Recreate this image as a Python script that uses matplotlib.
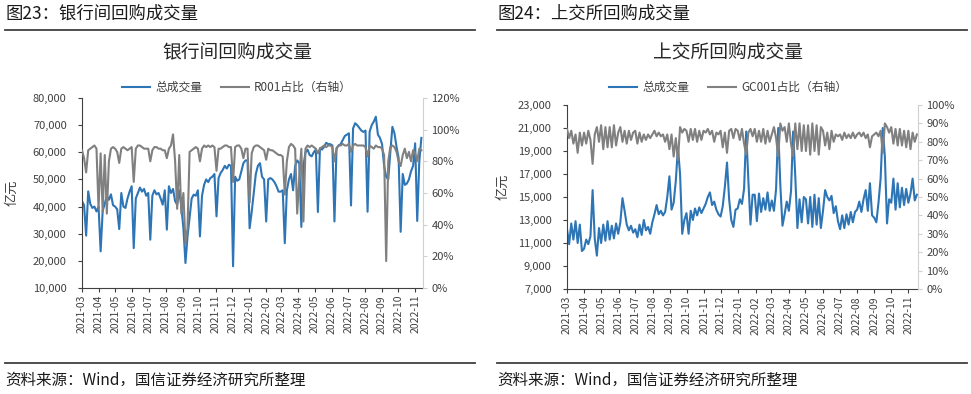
import matplotlib
matplotlib.use("Agg")
import matplotlib.pyplot as plt
import matplotlib.dates as mdates
import matplotlib.ticker as mticker
from matplotlib.lines import Line2D
import pandas as pd

plt.rcParams["font.family"] = ["Noto Sans CJK SC", "DejaVu Sans"]

BLUE = "#2E75B6"
GRAY = "#808080"
TEXT = "#404040"
W, H = 971, 394

# ---- 银行间: total volume (亿元), 8 readings per month, Mar-2021 .. mid Nov-2022
ib_volume = [
    42000, 40500, 29300, 45600, 41000, 39500, 40000, 38200,   # 2021-03
    40000, 23500, 38500, 41000, 44000, 42500, 44500, 40500,   # 2021-04
    40000, 39000, 31700, 45000, 40000, 39500, 43000, 45500,   # 2021-05
    47500, 24700, 43000, 45000, 47000, 45500, 46500, 44000,   # 2021-06
    45000, 27800, 44000, 46000, 44500, 45000, 43000, 40700,   # 2021-07
    46000, 31500, 47500, 45000, 46500, 42000, 40700, 46000,   # 2021-08
    40000, 32000, 19200, 29000, 36000, 43000, 44400, 44000,   # 2021-09
    46000, 29000, 44000, 48000, 50000, 49000, 50500, 51000,   # 2021-10
    52000, 36400, 50500, 52400, 53500, 55000, 54000, 55400,   # 2021-11
    55000, 18000, 51000, 49500, 50000, 53000, 56000, 57000,   # 2021-12
    57000, 32000, 38000, 45000, 52000, 55000, 56000, 51000,   # 2022-01
    50000, 34500, 50000, 50500, 50000, 49000, 47500, 45500,   # 2022-02
    45500, 46000, 26500, 46000, 50000, 52000, 46000, 55000,   # 2022-03
    57000, 56000, 32500, 55000, 60000, 61000, 59000, 58500,   # 2022-04
    60000, 61000, 38000, 61500, 61000, 62000, 63500, 63000,   # 2022-05
    63000, 62500, 34500, 61500, 62500, 63000, 64500, 66000,   # 2022-06
    66500, 67000, 40400, 68800, 70700, 70000, 69000, 68000,   # 2022-07
    67500, 68000, 38100, 67600, 70000, 71300, 73100, 66500,   # 2022-08
    65300, 63000, 55000, 51000, 50000, 60000, 69400, 67000,   # 2022-09
    62000, 58000, 30700, 52000, 48000, 48500, 50000, 53000,   # 2022-10
    55000, 63300, 34700, 56500, 65300,                        # 2022-11
]

# ---- 银行间: R001 share (%)
ib_share = [
    87, 82, 73, 87, 88, 89, 90, 88,
    50, 85, 48, 84, 47, 80, 88, 89,
    88, 86, 79, 88, 89, 88, 87, 88,
    89, 67, 88, 90, 90, 89, 88, 88,
    88, 80, 87, 89, 89, 88, 88, 87,
    87, 82, 88, 90, 97, 80, 50, 84,
    47, 60, 28, 38, 86, 87, 88, 89,
    88, 80, 88, 90, 89, 90, 89, 90,
    89, 74, 88, 88, 89, 90, 90, 89,
    89, 67, 89, 90, 90, 88, 82, 88,
    88, 54, 85, 89, 90, 90, 89, 88,
    87, 81, 88, 87, 87, 86, 85, 84,
    84, 83, 59, 80, 89, 91, 90, 88,
    47, 70, 88, 42, 88, 90, 89, 90,
    89, 88, 85, 88, 89, 90, 89, 90,
    90, 89, 80, 88, 90, 90, 91, 90,
    90, 91, 86, 90, 91, 90, 90, 90,
    90, 89, 83, 90, 89, 88, 90, 89,
    89, 88, 84, 17, 80, 89, 90, 89,
    86, 80, 77, 84, 88, 82, 86, 80,
    87, 85, 80, 88, 87,
]

# ---- 上交所: total volume (亿元)
sh_volume = [
    12200, 10900, 12700, 11300, 12900, 11000, 12600, 10300,   # 2021-03
    10500, 11300, 10900, 11600, 15600, 11400, 9900, 12300,    # 2021-04
    11000, 12600, 11200, 12900, 11300, 12500, 11400, 12700,   # 2021-05
    11800, 12800, 14900, 13800, 12600, 12100, 12500, 11900,   # 2021-06
    12200, 11500, 12600, 11700, 13000, 12100, 12400, 11800,   # 2021-07
    12800, 13500, 14300, 13500, 13800, 13400, 13700, 15000,   # 2021-08
    16800, 13900, 14500, 16400, 19300, 17000, 11800, 13000,   # 2021-09
    13600, 11800, 13800, 13000, 14000, 13400, 14100, 13600,   # 2021-10
    14000, 14400, 15000, 15400, 14300, 14600, 13900, 13500,   # 2021-11
    13300, 14200, 15900, 18000, 14800, 13000, 12400, 13900,   # 2021-12
    14000, 14800, 14400, 15700, 20700, 16500, 12600, 15200,   # 2022-01
    15200, 12900, 15300, 13700, 14900, 13900, 15400, 13800,   # 2022-02
    14700, 13800, 15700, 21000, 16000, 12500, 13500, 14600,   # 2022-03
    13800, 15500, 20700, 16800, 12300, 14800, 12800, 15000,   # 2022-04
    14800, 12700, 15000, 12400, 15200, 12600, 14900, 12300,   # 2022-05
    13800, 15600, 15000, 14700, 15100, 13600, 14200, 12900,   # 2022-06
    12200, 13400, 12300, 13500, 12600, 13700, 12800, 13700,   # 2022-07
    13900, 14600, 13700, 14800, 15600, 13800, 16200, 13400,   # 2022-08
    13200, 12800, 14500, 16600, 21000, 18500, 12700, 14800,   # 2022-09
    14500, 16600, 13900, 16200, 14100, 15800, 14300, 15700,   # 2022-10
    14500, 15300, 16600, 14700, 15200,                        # 2022-11
]

# ---- 上交所: GC001 share (%)
sh_share = [
    87, 82, 86, 79, 84, 74, 85, 78,
    85, 79, 86, 81, 68, 84, 88, 80,
    89, 76, 88, 77, 88, 77, 89, 78,
    85, 88, 80, 86, 79, 86, 81, 85,
    86, 79, 85, 80, 84, 81, 84, 82,
    84, 86, 83, 85, 83, 84, 80, 84,
    76, 84, 72, 82, 70, 88, 85, 87,
    86, 80, 87, 81, 87, 80, 86, 81,
    86, 85, 87, 84, 86, 80, 85, 84,
    86, 77, 85, 74, 86, 87, 82, 87,
    86, 81, 87, 79, 73, 85, 87, 83,
    87, 80, 86, 80, 87, 79, 86, 80,
    84, 88, 82, 72, 90, 86, 88, 80,
    90, 79, 72, 90, 76, 90, 75, 89,
    75, 89, 73, 90, 75, 89, 73, 88,
    86, 78, 85, 76, 86, 80, 84, 83,
    84, 81, 85, 82, 84, 82, 85, 82,
    84, 85, 83, 85, 82, 84, 77, 83,
    84, 85, 83, 86, 74, 90, 88, 85,
    88, 79, 87, 78, 87, 78, 86, 77,
    86, 76, 85, 80, 84,
]

ib_dates = pd.date_range("2021-03-01", "2022-11-12", periods=len(ib_volume))
sh_dates = pd.date_range("2021-03-01", "2022-11-16", periods=len(sh_volume))
month_ticks = pd.date_range("2021-03-01", "2022-11-01", freq="MS")


def px(x, y):
    return x / W, 1 - y / H


def draw_panel(fig, rect, dates, volume, share, xmax, yticks, pticks,
               vol_label, share_label, header, title, hx, cx, leg_y, ylab_xy):
    l, t, r, b = rect
    ax = fig.add_axes([l / W, 1 - b / H, (r - l) / W, (b - t) / H])
    ax2 = ax.twinx()

    line1, = ax.plot(dates, volume, color=BLUE, lw=1.5)
    line2, = ax2.plot(dates, share, color=GRAY, lw=1.5)

    ax.set_xlim(pd.Timestamp("2021-03-01"), pd.Timestamp(xmax))
    ax.set_ylim(yticks[0], yticks[-1])
    ax.set_yticks(yticks)
    ax.yaxis.set_major_formatter(mticker.FuncFormatter(lambda v, p: f"{int(v):,}"))
    ax2.set_ylim(pticks[0], pticks[-1])
    ax2.set_yticks(pticks)
    ax2.yaxis.set_major_formatter(mticker.FuncFormatter(lambda v, p: f"{int(v)}%"))

    ax.set_xticks(month_ticks)
    ax.xaxis.set_major_formatter(mdates.DateFormatter("%Y-%m"))
    ax.tick_params(axis="x", rotation=90, labelsize=7.5, colors=TEXT,
                   length=3, width=0.8, direction="out", pad=2)
    ax.tick_params(axis="y", labelsize=8, colors=TEXT, length=3, width=0.8, pad=8)
    ax2.tick_params(axis="y", labelsize=8, labelcolor=TEXT, color="#D0D0D0",
                    length=3, width=0.8, pad=3)

    for s in ["top", "right"]:
        ax.spines[s].set_visible(False)
    for s in ["top", "left", "bottom"]:
        ax2.spines[s].set_visible(False)
    ax.spines["left"].set_color(TEXT)
    ax.spines["bottom"].set_color(TEXT)
    ax2.spines["right"].set_color("#D0D0D0")

    fig.legend([line1, line2], [vol_label, share_label], loc="center",
               bbox_to_anchor=px(cx, leg_y), ncol=2, frameon=False, fontsize=8.5,
               handlelength=2.4, handletextpad=0.4, columnspacing=1.6,
               labelcolor=TEXT)

    fig.text(*px(hx, 14), header, ha="left", va="center", fontsize=12.5, color="#1a1a1a")
    fig.text(*px(cx, 53), title, ha="center", va="center", fontsize=13.5, color="#262626")
    fig.text(*px(*ylab_xy), "亿元", ha="center", va="center", rotation=90,
             fontsize=9.5, color=TEXT)
    fig.text(*px(hx, 380.5), "资料来源：Wind，国信证券经济研究所整理", ha="left",
             va="center", fontsize=11.2, color="#1a1a1a")

    for y in (29.5, 362.7):
        fig.add_artist(Line2D([hx / W, (hx + 470) / W], [1 - y / H] * 2,
                              color="#404040", lw=1.3))
    return ax, ax2


fig = plt.figure(figsize=(W / 100, H / 100), dpi=100)

draw_panel(fig, (82, 98, 423, 288), ib_dates, ib_volume, ib_share, "2022-11-15",
           list(range(10000, 80001, 10000)), list(range(0, 121, 20)),
           "总成交量", "R001占比（右轴）", "图23：银行间回购成交量", "银行间回购成交量",
           5, 237, 87.3, (12, 193))

draw_panel(fig, (567, 105, 918, 289), sh_dates, sh_volume, sh_share, "2022-11-18",
           list(range(7000, 23001, 2000)), list(range(0, 101, 10)),
           "总成交量", "GC001占比（右轴）", "图24：上交所回购成交量", "上交所回购成交量",
           497, 728, 87.7, (503, 187))

fig.savefig("out.png", dpi=100)
